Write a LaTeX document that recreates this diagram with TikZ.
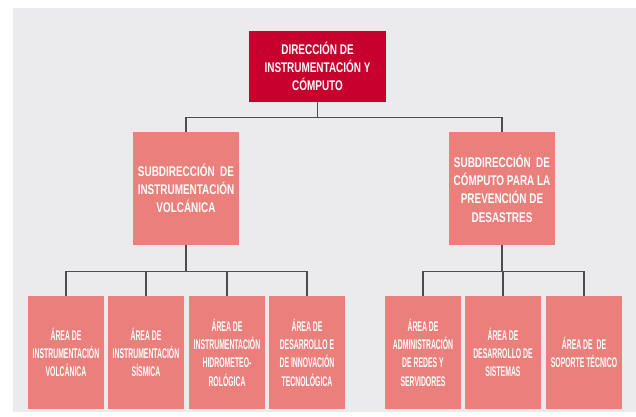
\documentclass[tikz,border=0pt]{standalone}
\usepackage{fontspec}
\usepackage{tikz}
\usetikzlibrary{positioning}
\newfontfamily\headfont[FakeStretch=0.71]{Liberation Sans}
\newfontfamily\areafont[FakeStretch=0.49]{Liberation Sans}
\definecolor{dirred}{HTML}{C8002D}
\definecolor{subpink}{HTML}{EB7F7B}
\definecolor{backgray}{HTML}{EBEBED}
\definecolor{linegray}{HTML}{4D4D4D}

\begin{document}
\begin{tikzpicture}[x=1pt,y=1pt,
    box/.style={rectangle,inner sep=0pt,align=center,text=white,
      font=\headfont\bfseries\fontsize{14}{18.3}\selectfont},
    dirbox/.style={box,fill=dirred,minimum width=137pt,minimum height=71pt},
    subbox/.style={box,fill=subpink,minimum width=106pt,minimum height=113pt},
    areabox/.style={box,fill=subpink,minimum width=76pt,minimum height=113pt,
      font=\areafont\bfseries\fontsize{14}{18.3}\selectfont},
    conn/.style={draw=linegray,line width=1.3pt}]
            \useasboundingbox (0,0) rectangle (636,416);
            \fill[backgray] (13,4) rectangle (636,408);
            \node[dirbox] (dir) at (317.5,349.5) {DIRECCIÓN DE\\INSTRUMENTACIÓN Y\\CÓMPUTO};
            \node[subbox] (subinst) at (186,227.5) {SUBDIRECCIÓN\ \ DE\\INSTRUMENTACIÓN\\VOLCÁNICA};
            \node[subbox] (subcomp) at (502,227.5) {SUBDIRECCIÓN\ \ DE\\CÓMPUTO PARA LA\\PREVENCIÓN DE\\DESASTRES};
            \node[areabox] (volc) at (66,63.5) {ÁREA DE\\INSTRUMENTACIÓN\\VOLCÁNICA};
            \node[areabox] (sism) at (146,63.5) {ÁREA DE\\INSTRUMENTACIÓN\\SÍSMICA};
            \node[areabox] (hidro) at (227,63.5) {ÁREA DE\\INSTRUMENTACIÓN\\HIDROMETEO-\\ROLÓGICA};
            \node[areabox] (innov) at (307,63.5) {ÁREA DE\\DESARROLLO E\\DE INNOVACIÓN\\TECNOLÓGICA};
            \node[areabox] (redes) at (423,63.5) {ÁREA DE\\ADMINISTRACIÓN\\DE REDES Y\\SERVIDORES};
            \node[areabox] (sist) at (503,63.5) {ÁREA DE\\DESARROLLO DE\\SISTEMAS};
            \node[areabox] (soporte) at (584,63.5) {ÁREA DE\ \ DE\\SOPORTE TÉCNICO};
            \draw[conn] (dir.south) -- ++(0,-15) -| (subinst.north);
            \draw[conn] (dir.south) -- ++(0,-15) -| (subcomp.north);
            \foreach \leaf in {volc,sism,hidro,innov}
              \draw[conn] (subinst.south) -- ++(0,-26.5) -| (\leaf.north);
            \foreach \leaf in {redes,sist,soporte}
              \draw[conn] (subcomp.south) -- ++(0,-26.5) -| (\leaf.north);
        \end{tikzpicture}
\end{document}
